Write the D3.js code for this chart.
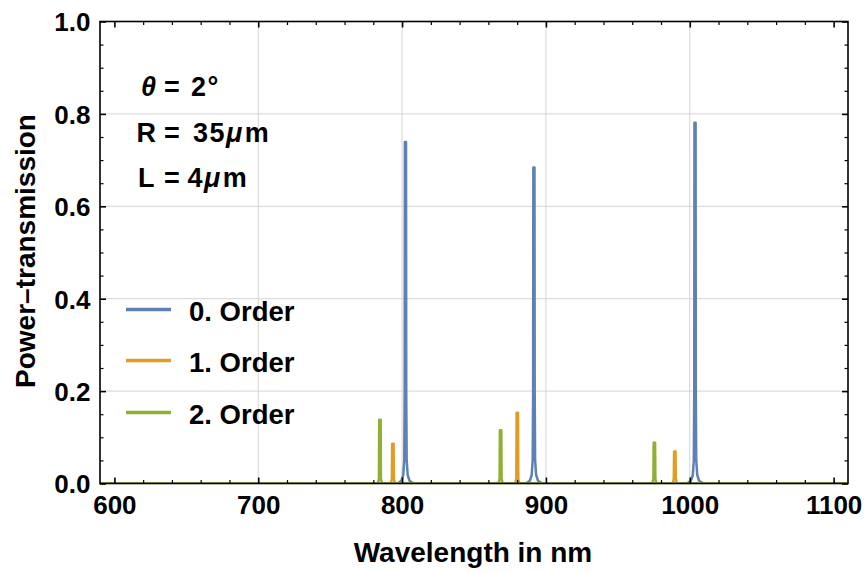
<!DOCTYPE html>
<html>
<head>
<meta charset="utf-8">
<script src="https://cdn.jsdelivr.net/npm/d3@7"></script>
<style>
  body { margin: 0; background: #fff; }
  text { font-family: "Liberation Sans", Arial, sans-serif; font-weight: bold; fill: #000; }
</style>
</head>
<body>
<svg id="chart"></svg>
<script>
// Power transmission vs wavelength, three diffraction orders.
// Values.

const xTicks = [600, 700, 800, 900, 1000, 1100];
const yTicks = [0, 0.2, 0.4, 0.6, 0.8, 1.0];
const xGrid = [700, 800, 900, 1000];
const yGrid = [0.2, 0.4, 0.6, 0.8];

const seriesNames = ['0. Order', '1. Order', '2. Order'];
const seriesColors = ['#5e81b5', '#e19c24', '#8fb032'];

// [wavelength in nm, transmission]
const order0 = [
    [590, 0],
    [797, 0], [799.5, 0.006], [800.8, 0.018], [801.5, 0.05], [801.8, 0.2], [801.95, 0.739], [802.75, 0.739], [802.9, 0.2], [803.2, 0.05], [803.9, 0.018], [805.2, 0.006], [808, 0],
    [886, 0], [888.8, 0.006], [890.1, 0.018], [890.8, 0.05], [891.1, 0.2], [891.25, 0.684], [892.05, 0.684], [892.2, 0.2], [892.5, 0.05], [893.2, 0.018], [894.5, 0.006], [897.5, 0],
    [998, 0], [1000.8, 0.006], [1002.1, 0.018], [1002.8, 0.05], [1003.1, 0.2], [1003.25, 0.781], [1004.05, 0.781], [1004.2, 0.2], [1004.5, 0.05], [1005.2, 0.018], [1006.5, 0.006], [1009.5, 0],
    [1110, 0]
];
const order1 = [
    [590, 0],
    [792.2, 0], [792.9, 0.01], [793.1, 0.086], [794.1, 0.086], [794.3, 0.01], [795, 0],
    [878.7, 0], [879.4, 0.01], [879.6, 0.153], [880.6, 0.153], [880.8, 0.01], [881.5, 0],
    [988.2, 0], [988.9, 0.01], [989.1, 0.069], [990.1, 0.069], [990.3, 0.01], [991, 0],
    [1110, 0]
];
const order2 = [
    [590, 0],
    [783.2, 0], [783.9, 0.01], [784.1, 0.138], [785.1, 0.138], [785.3, 0.01], [786, 0],
    [867.1, 0], [867.8, 0.01], [868, 0.115], [869, 0.115], [869.2, 0.01], [869.9, 0],
    [974, 0], [974.7, 0.01], [974.9, 0.088], [975.9, 0.088], [976.1, 0.01], [976.8, 0],
    [1110, 0]
];
const series = [order0, order1, order2];

let width = 867,
    height = 573;
let plot = { left: 100, right: 848, top: 21.5, bottom: 483.5 };

let svg = d3.select('#chart')
    .attr('width', width)
    .attr('height', height);

let x = d3.scaleLinear().domain([590, 1110]).range([plot.left, plot.right]);
let y = d3.scaleLinear().domain([0, 1]).range([plot.bottom, plot.top]);

// grid lines
let grid = svg.append('g').attr('class', 'grid')
    .attr('stroke', '#d4d4d4').attr('stroke-width', 1);
grid.selectAll('.gx').data(xGrid).enter().append('line')
    .attr('x1', (d) => x(d)).attr('x2', (d) => x(d))
    .attr('y1', plot.top).attr('y2', plot.bottom);
grid.selectAll('.gy').data(yGrid).enter().append('line')
    .attr('x1', plot.left).attr('x2', plot.right)
    .attr('y1', (d) => y(d)).attr('y2', (d) => y(d));

// curves, clipped to the frame
svg.append('clipPath').attr('id', 'clip')
  .append('rect')
    .attr('x', plot.left).attr('y', plot.top)
    .attr('width', plot.right - plot.left).attr('height', plot.bottom - plot.top);

let line = d3.line().x((d) => x(d[0])).y((d) => y(d[1]));
svg.append('g').attr('clip-path', 'url(#clip)')
  .selectAll('path')
  .data(series)
  .enter().append('path')
    .attr('d', line)
    .attr('fill', 'none')
    .attr('stroke', (d, i) => seriesColors[i])
    .attr('stroke-width', 2.5)
    .attr('stroke-linejoin', 'round');

// frame with inward ticks on all sides
let xMinor = d3.range(600, 1101, 20).filter((v) => v % 100 != 0);
let yMinor = d3.range(0.05, 1, 0.05).filter((v) => Math.abs(v * 5 - Math.round(v * 5)) > 1e-6);

function drawAxis(axisFn, transform, scale, majors, minors, labels) {
    let g = svg.append('g').attr('transform', transform);
    g.call(axisFn(scale).tickValues(minors).tickSize(-3.5).tickFormat(''))
      .select('.domain').remove();
    g.selectAll('line').attr('stroke-width', 1.2);
    let gm = svg.append('g').attr('transform', transform);
    gm.call(axisFn(scale).tickValues(majors).tickSize(-6).tickPadding(labels ? 11 : 0)
        .tickFormat(labels ? labels : ''))
      .select('.domain').remove();
    gm.selectAll('line').attr('stroke-width', 1.6);
    gm.selectAll('text').attr('font-size', 26);
    gm.attr('font-family', null);
    return gm;
}

let xb = drawAxis(d3.axisBottom, `translate(0,${plot.bottom})`, x, xTicks, xMinor, d3.format('d'));
xb.selectAll('text').attr('dy', '0.76em');
drawAxis(d3.axisTop, `translate(0,${plot.top})`, x, xTicks, xMinor, null);
let yl = drawAxis(d3.axisLeft, `translate(${plot.left},0)`, y, yTicks, yMinor, d3.format('.1f'));
yl.selectAll('text').attr('dy', '0.36em').attr('x', -9.5);
drawAxis(d3.axisRight, `translate(${plot.right},0)`, y, yTicks, yMinor, null);

svg.append('rect')
    .attr('x', plot.left).attr('y', plot.top)
    .attr('width', plot.right - plot.left).attr('height', plot.bottom - plot.top)
    .attr('fill', 'none').attr('stroke', '#000').attr('stroke-width', 1.6);

// axis titles
svg.append('text')
    .attr('x', (plot.left + plot.right) / 2 - 1)
    .attr('y', 561.5)
    .attr('text-anchor', 'middle')
    .attr('font-size', 28)
    .text('Wavelength in nm');

svg.append('text')
    .attr('transform', 'translate(35,251) rotate(-90)')
    .attr('text-anchor', 'middle')
    .attr('font-size', 28)
    .text('Power\u2013transmission');

// parameter annotations: Mathematica spaces the "=" widely, so place the
// name, the "=" and the value separately
let notes = svg.append('g').attr('font-size', 27);
function note(yPos, name, nameItalic, valueX, value, unit) {
    let t = notes.append('text').attr('y', yPos);
    t.append('tspan').attr('x', name[0])
        .attr('font-style', nameItalic ? 'italic' : null).text(name[1]);
    t.append('tspan').attr('x', 164).text('=');
    t.append('tspan').attr('x', valueX).attr('letter-spacing', 1.5).text(value);
    if (unit) {
        t.append('tspan').attr('font-style', 'italic').attr('letter-spacing', 2.5).text('\u03bc');
        t.append('tspan').text('m');
    }
}
note(96, [141, '\u03b8'], true, 191, '2\u00b0', false);
note(141.5, [136.5, 'R'], false, 193, '35', true);
note(186.5, [138, 'L'], false, 187.5, '4', true);

// legend
let legendY = [309.5, 360.5, 412.5];
let legend = svg.append('g').attr('class', 'legend');
let items = legend.selectAll('g')
    .data(seriesNames)
    .enter().append('g')
    .attr('transform', (d, i) => `translate(0,${legendY[i]})`);
items.append('line')
    .attr('x1', 126).attr('x2', 171)
    .attr('stroke', (d, i) => seriesColors[i])
    .attr('stroke-width', 3.5);
items.append('text')
    .attr('x', 189)
    .attr('y', 11)
    .attr('font-size', 27.5)
    .text((d) => d);
</script>
</body>
</html>
